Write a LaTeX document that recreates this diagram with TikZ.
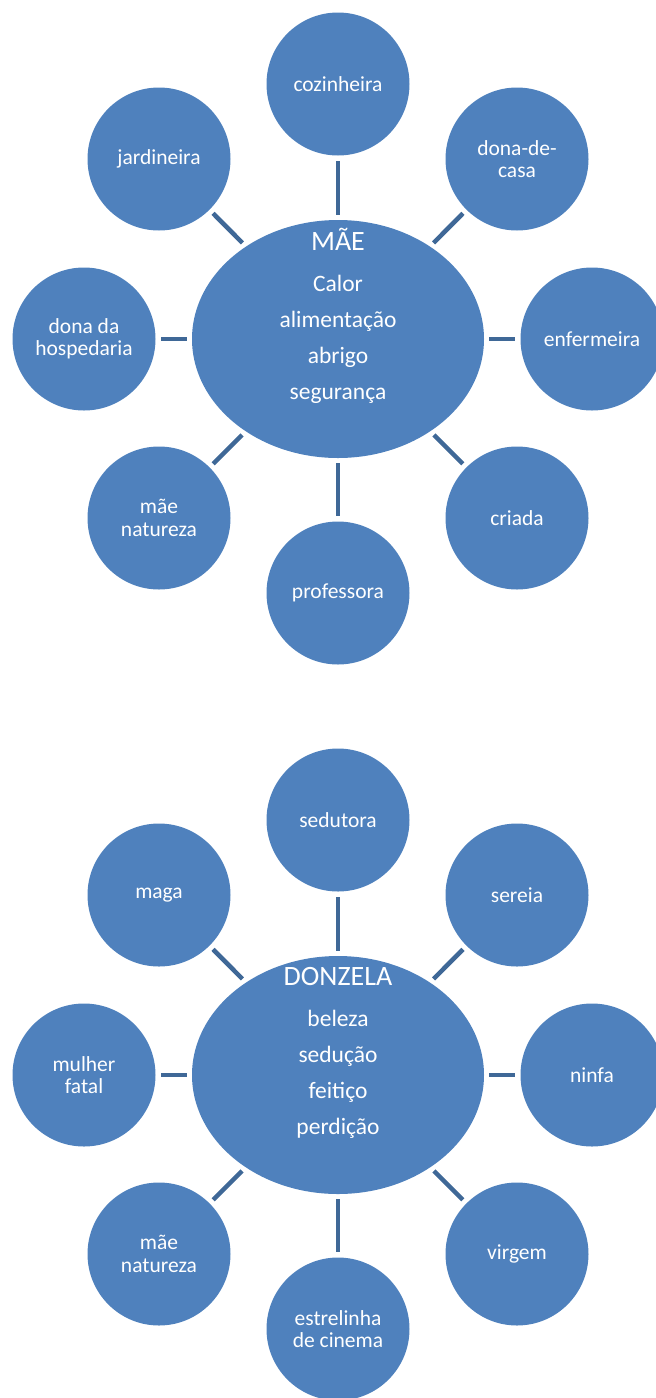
\documentclass[tikz,border=0pt]{standalone}
\usepackage{fontspec}
\setmainfont{Carlito}
\usetikzlibrary{shapes.geometric}
\definecolor{nodeblue}{HTML}{4F81BD}
\definecolor{linkblue}{HTML}{3F6897}

\begin{document}
\begin{tikzpicture}[x=1pt,y=-1pt,
    hub/.style={ellipse,fill=nodeblue,draw=none,minimum width=292pt,minimum height=238pt,inner sep=0pt},
    hubtext/.style={text=white,align=center,font=\fontsize{23.5}{36}\selectfont},
    leaf/.style={circle,fill=nodeblue,draw=none,minimum size=143pt,inner sep=0pt,text=white,align=center,font=\fontsize{21.5}{22.5}\selectfont},
    link/.style={linkblue,line width=4.5pt,shorten <=5pt,shorten >=5pt}]

    \useasboundingbox (0,0) rectangle (656,1398);

    % upper diagram
    \node[hub] (mae) at (338,339) {};
    \node[hubtext] (maetext) at (338,316) {{\fontsize{28}{30}\selectfont MÃE}\\[5pt]Calor\\alimentação\\abrigo\\segurança};

    \node[leaf] (cozinheira) at (338,84) {cozinheira};
    \node[leaf] (donacasa) at (517,159) {dona-de-\\casa};
    \node[leaf] (enfermeira) at (592,339) {enfermeira};
    \node[leaf] (criada) at (517,518) {criada};
    \node[leaf] (professora) at (338,593) {professora};
    \node[leaf] (maenat) at (159,518) {mãe\\natureza};
    \node[leaf] (hospedaria) at (84,339) {dona da\\hospedaria};
    \node[leaf] (jardineira) at (159,159) {jardineira};

    \draw[link] (mae) -- (cozinheira);
    \draw[link] (mae) -- (donacasa);
    \draw[link] (mae) -- (enfermeira);
    \draw[link] (mae) -- (criada);
    \draw[link] (mae) -- (professora);
    \draw[link] (mae) -- (maenat);
    \draw[link] (mae) -- (hospedaria);
    \draw[link] (mae) -- (jardineira);

    % lower diagram
    \node[hub] (donzela) at (338,1075) {};
    \node[hubtext] (donzelatext) at (338,1053) {{\fontsize{28}{30}\selectfont DONZELA}\\[5pt]beleza\\sedução\\feitiço\\perdição};

    \node[leaf] (sedutora) at (338,820) {sedutora};
    \node[leaf] (sereia) at (517,895) {sereia};
    \node[leaf] (ninfa) at (592,1075) {ninfa};
    \node[leaf] (virgem) at (517,1254) {virgem};
    \node[leaf] (estrelinha) at (338,1329) {estrelinha\\de cinema};
    \node[leaf] (maenatb) at (159,1254) {mãe\\natureza};
    \node[leaf] (mulher) at (84,1075) {mulher\\fatal};
    \node[leaf] (maga) at (159,895) {maga};

    \draw[link] (donzela) -- (sedutora);
    \draw[link] (donzela) -- (sereia);
    \draw[link] (donzela) -- (ninfa);
    \draw[link] (donzela) -- (virgem);
    \draw[link] (donzela) -- (estrelinha);
    \draw[link] (donzela) -- (maenatb);
    \draw[link] (donzela) -- (mulher);
    \draw[link] (donzela) -- (maga);
\end{tikzpicture}
\end{document}
